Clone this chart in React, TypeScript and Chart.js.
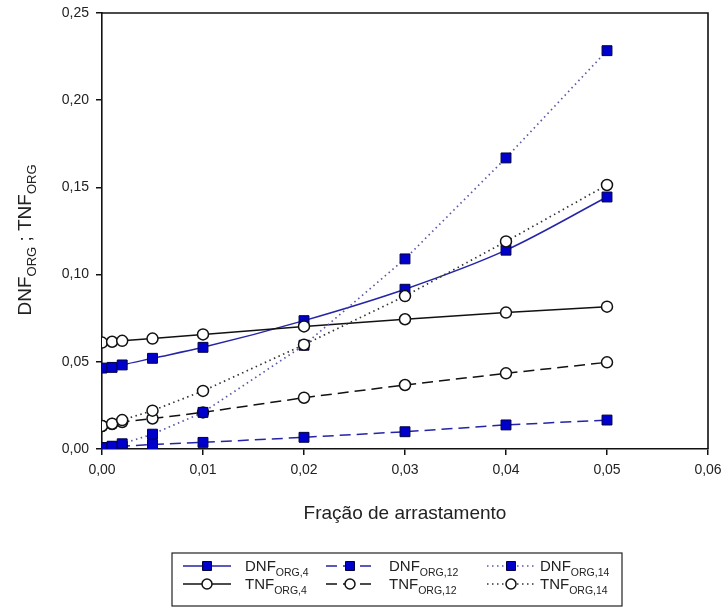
import React, { useEffect, useRef } from "react";
import { Chart, registerables } from "chart.js";

Chart.register(...registerables);

const xValues = [0, 0.001, 0.002, 0.005, 0.01, 0.02, 0.03, 0.04, 0.05];
const dnfOrg4 = [0.0464, 0.0468, 0.0482, 0.052, 0.0583, 0.0736, 0.0916, 0.114, 0.1445];
const dnfOrg12 = [0.0008, 0.0012, 0.0016, 0.0026, 0.0038, 0.0067, 0.0099, 0.0138, 0.0166];
const dnfOrg14 = [0.0008, 0.0016, 0.003, 0.0085, 0.021, 0.0595, 0.109, 0.1669, 0.2284];
const tnfOrg4 = [0.061, 0.0615, 0.062, 0.0633, 0.0657, 0.0703, 0.0744, 0.0782, 0.0816];
const tnfOrg12 = [0.0132, 0.0143, 0.0155, 0.0175, 0.021, 0.0294, 0.0367, 0.0434, 0.0497];
const tnfOrg14 = [0.0132, 0.0145, 0.0166, 0.022, 0.0333, 0.0598, 0.0877, 0.119, 0.1514];

const xTitle = "Fração de arrastamento";
const yTitleParts = [
  { t: "DNF", sub: false },
  { t: "ORG", sub: true },
  { t: " ; TNF", sub: false },
  { t: "ORG", sub: true },
];

const FONT = "'Liberation Sans', Arial, sans-serif";
const BLUE_FILL = "#0000cc";
const BLUE_EDGE = "#000040";
const BLUE_LINE = "#2424a8";
const BLACK = "#111111";

type Part = { t: string; sub: boolean };

function richWidth(ctx: CanvasRenderingContext2D, parts: Part[], size: number, subSize: number) {
  let w = 0;
  for (const p of parts) {
    ctx.font = `${p.sub ? subSize : size}px ${FONT}`;
    w += ctx.measureText(p.t).width;
  }
  return w;
}

function drawRich(ctx: CanvasRenderingContext2D, parts: Part[], x: number, y: number, size: number, subSize: number, subDrop: number) {
  let cx = x;
  ctx.textBaseline = "alphabetic";
  ctx.textAlign = "left";
  for (const p of parts) {
    ctx.font = `${p.sub ? subSize : size}px ${FONT}`;
    ctx.fillText(p.t, cx, p.sub ? y + subDrop : y);
    cx += ctx.measureText(p.t).width;
  }
}

const makeDs = (label: string, data: number[], opts: any) => ({
  label,
  data: data.map((v, i) => ({ x: xValues[i], y: v })),
  ...opts,
});

export default function App() {
  const ref = useRef<HTMLCanvasElement | null>(null);

  useEffect(() => {
    document.body.style.margin = "0";
    const canvas = ref.current!;
    const squareOpts = {
      pointStyle: "rect",
      pointRadius: 7,
      pointBackgroundColor: BLUE_FILL,
      pointBorderColor: BLUE_EDGE,
      pointBorderWidth: 1,
      borderColor: BLUE_LINE,
    };
    const circleOpts = {
      pointStyle: "circle",
      pointRadius: 5.5,
      pointBackgroundColor: "#ffffff",
      pointBorderColor: BLACK,
      pointBorderWidth: 1.5,
      borderColor: BLACK,
    };
    const datasets: any[] = [
      makeDs("DNF_ORG,4", dnfOrg4, { ...squareOpts, borderWidth: 1.5, cubicInterpolationMode: "monotone", order: 6, legendDash: [] }),
      makeDs("DNF_ORG,12", dnfOrg12, { ...squareOpts, borderWidth: 1.5, borderDash: [11, 6], order: 5, legendDash: [11, 6] }),
      makeDs("DNF_ORG,14", dnfOrg14, { ...squareOpts, borderColor: "#5858a8", borderWidth: 1.7, borderDash: [1.5, 3.5], order: 2, legendDash: [1.5, 3.5] }),
      makeDs("TNF_ORG,4", tnfOrg4, { ...circleOpts, borderWidth: 1.5, order: 4, legendDash: [] }),
      makeDs("TNF_ORG,12", tnfOrg12, { ...circleOpts, borderWidth: 1.5, borderDash: [11, 6], order: 3, legendDash: [11, 6] }),
      makeDs("TNF_ORG,14", tnfOrg14, { ...circleOpts, borderColor: "#333333", borderWidth: 1.7, borderDash: [1.5, 3.5], order: 1, legendDash: [1.5, 3.5] }),
    ];

    const legendLayout = [
      { ds: 0, col: 0, row: 0, main: "DNF", sub: "ORG,4" },
      { ds: 1, col: 1, row: 0, main: "DNF", sub: "ORG,12" },
      { ds: 2, col: 2, row: 0, main: "DNF", sub: "ORG,14" },
      { ds: 3, col: 0, row: 1, main: "TNF", sub: "ORG,4" },
      { ds: 4, col: 1, row: 1, main: "TNF", sub: "ORG,12" },
      { ds: 5, col: 2, row: 1, main: "TNF", sub: "ORG,14" },
    ];

    const overlay = {
      id: "overlay",
      afterDraw(chart: any) {
        const ctx: CanvasRenderingContext2D = chart.ctx;
        const a = chart.chartArea;
        ctx.save();
        // frame top & right
        ctx.strokeStyle = BLACK;
        ctx.lineWidth = 1.6;
        ctx.beginPath();
        ctx.moveTo(a.left, a.top);
        ctx.lineTo(a.right, a.top);
        ctx.lineTo(a.right, a.bottom);
        ctx.stroke();

        ctx.fillStyle = "#222222";
        // x title
        ctx.font = `19px ${FONT}`;
        ctx.textAlign = "center";
        ctx.textBaseline = "alphabetic";
        ctx.fillText(xTitle, (a.left + a.right) / 2, 519);

        // y title
        ctx.save();
        ctx.translate(31, 240);
        ctx.rotate(-Math.PI / 2);
        const w = richWidth(ctx, yTitleParts, 19, 13);
        drawRich(ctx, yTitleParts, -w / 2, 0, 19, 13, 5);
        ctx.restore();

        // legend box
        const bx = 172, by = 553, bw = 450, bh = 53;
        ctx.strokeStyle = "#222222";
        ctx.lineWidth = 1.2;
        ctx.setLineDash([]);
        ctx.strokeRect(bx, by, bw, bh);

        const colX = [183, 326, 487];
        const textX = [245, 389, 540];
        const rowY = [566, 584];
        const sampleLen = 48;
        for (const item of legendLayout) {
          const ds = datasets[item.ds];
          const x0 = colX[item.col];
          const y0 = rowY[item.row];
          ctx.save();
          ctx.strokeStyle = ds.borderColor;
          ctx.lineWidth = ds.borderWidth;
          ctx.setLineDash(ds.legendDash);
          ctx.beginPath();
          ctx.moveTo(x0, y0);
          ctx.lineTo(x0 + sampleLen, y0);
          ctx.stroke();
          ctx.setLineDash([]);
          const cx = x0 + sampleLen / 2;
          ctx.fillStyle = ds.pointBackgroundColor;
          ctx.strokeStyle = ds.pointBorderColor;
          ctx.lineWidth = ds.pointBorderWidth;
          if (ds.pointStyle === "rect") {
            const s = 4.5;
            ctx.beginPath();
            ctx.rect(cx - s, y0 - s, 2 * s, 2 * s);
            ctx.fill();
            ctx.stroke();
          } else {
            ctx.beginPath();
            ctx.arc(cx, y0, 5, 0, Math.PI * 2);
            ctx.fill();
            ctx.stroke();
          }
          ctx.restore();
          ctx.fillStyle = "#222222";
          drawRich(
            ctx,
            [
              { t: item.main, sub: false },
              { t: item.sub, sub: true },
            ],
            textX[item.col],
            y0 + 5,
            15,
            10.5,
            5
          );
        }
        ctx.restore();
      },
    };

    const tickFmt = (v: any) => (Math.round(Number(v) * 100) / 100).toFixed(2).replace(".", ",");

    const chart = new Chart(canvas, {
      type: "line",
      data: { datasets },
      options: {
        animation: false,
        responsive: false,
        maintainAspectRatio: false,
        layout: { padding: { left: 0, top: 13, right: 18, bottom: 0 } },
        plugins: { legend: { display: false }, tooltip: { enabled: false } },
        elements: { line: { fill: false } },
        scales: {
          x: {
            type: "linear",
            min: 0,
            max: 0.06,
            afterFit: (s: any) => {
              s.height = 613 - 449;
              s.paddingLeft = 0;
              s.paddingRight = 0;
            },
            ticks: {
              stepSize: 0.01,
              callback: tickFmt,
              color: "#222222",
              font: { family: FONT, size: 14 },
              padding: 7,
              maxRotation: 0,
            },
            grid: { drawOnChartArea: false, drawTicks: true, tickLength: 6, color: BLACK, lineWidth: 1.5 },
            border: { display: true, color: BLACK, width: 1.6 },
          },
          y: {
            type: "linear",
            min: 0,
            max: 0.25,
            afterFit: (s: any) => {
              s.width = 102;
              s.paddingTop = 0;
              s.paddingBottom = 0;
            },
            ticks: {
              stepSize: 0.05,
              callback: tickFmt,
              color: "#222222",
              font: { family: FONT, size: 14 },
              padding: 7,
            },
            grid: { drawOnChartArea: false, drawTicks: true, tickLength: 6, color: BLACK, lineWidth: 1.5 },
            border: { display: true, color: BLACK, width: 1.6 },
          },
        },
      },
      plugins: [overlay],
    });
    return () => chart.destroy();
  }, []);

  return (
    <div style={{ width: 726, height: 613 }}>
      <canvas ref={ref} width={726} height={613} style={{ display: "block", width: 726, height: 613 }} />
    </div>
  );
}
